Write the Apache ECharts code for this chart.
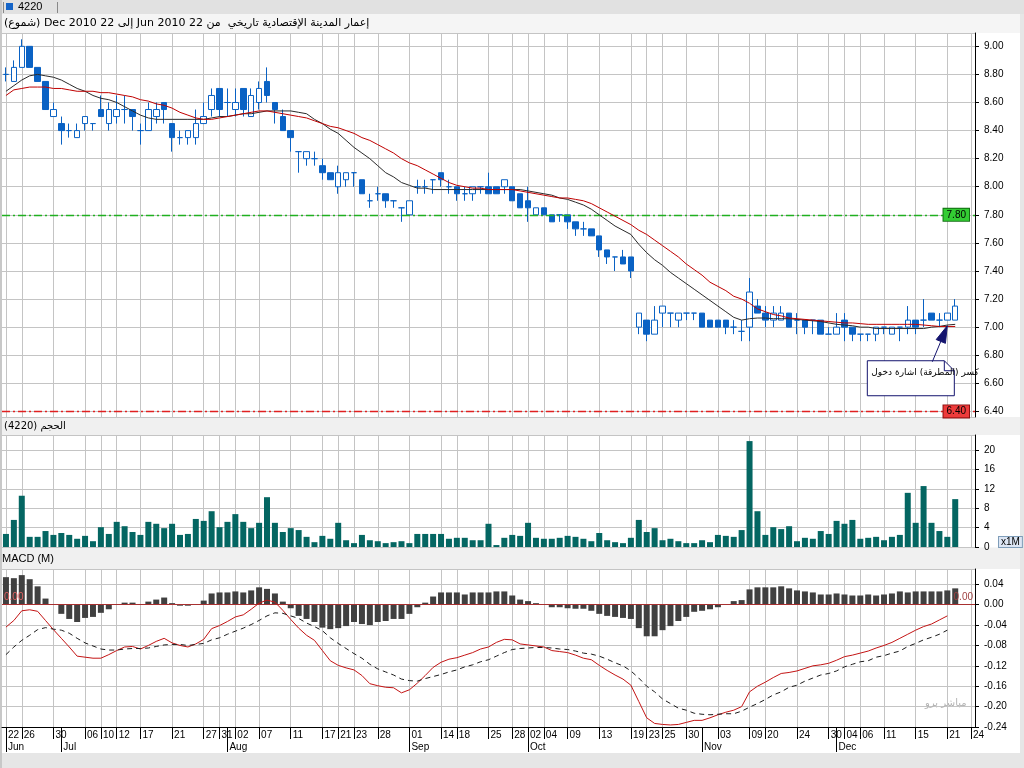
<!DOCTYPE html>
<html><head><meta charset="utf-8">
<script src="https://cdn.jsdelivr.net/npm/echarts@6/dist/echarts.min.js"></script>
<style>html,body{margin:0;padding:0;background:#fff}#c{width:1024px;height:768px}</style>
</head><body><div id="c"></div><script>
// ---------- DATA ----------
const dates = ['06-22','06-23','06-26','06-27','06-28','06-29','06-30',
'07-03','07-04','07-05','07-06','07-07','07-10','07-11','07-12','07-13','07-14','07-17','07-18','07-19','07-20','07-21','07-24','07-25','07-26','07-27','07-28','07-31',
'08-01','08-02','08-03','08-04','08-07','08-08','08-09','08-10','08-11','08-14','08-15','08-16','08-17','08-18','08-21','08-22','08-23','08-24','08-25','08-28','08-29','08-30','08-31',
'09-01','09-04','09-05','09-06','09-14','09-15','09-18','09-19','09-20','09-21','09-25','09-26','09-27','09-28','09-29',
'10-02','10-03','10-04','10-05','10-06','10-09','10-10','10-11','10-12','10-13','10-16','10-17','10-18','10-19','10-20','10-23','10-24','10-25','10-26','10-27','10-30','10-31',
'11-01','11-02','11-03','11-06','11-07','11-08','11-09','11-10','11-20','11-21','11-22','11-23','11-24','11-27','11-28','11-29','11-30',
'12-01','12-04','12-05','12-06','12-07','12-08','12-11','12-12','12-13','12-14','12-15','12-18','12-19','12-20','12-21','12-22','12-23','12-24'];

const tickDays = ['06-22','06-26','06-30','07-06','07-10','07-12','07-17','07-21','07-27','07-31','08-02','08-07','08-11','08-17','08-21','08-23','08-28','09-01','09-14','09-18','09-25','09-28','10-02','10-04','10-09','10-13','10-19','10-23','10-25','10-30','11-03','11-09','11-20','11-24','11-30','12-04','12-06','12-11','12-15','12-21','12-24'];
const monthStarts = {'06-22':'Jun','07-03':'Jul','08-01':'Aug','09-01':'Sep','10-02':'Oct','11-01':'Nov','12-01':'Dec'};

const open = [8.80,8.75,8.85,9.00,8.85,8.75,8.50,8.45,8.40,8.35, 8.45,8.45,8.55,8.45,8.50,8.55,8.55,8.40,8.40,8.50, 8.60,8.45,8.35,8.35,8.35,8.45,8.55,8.70,8.60,8.55, 8.70,8.50,8.60,8.75,8.60,8.50,8.40,8.25,8.20,8.20, 8.15,8.10,8.00,8.05,8.10,8.05,7.90,7.95,7.95,7.90, 7.85,7.80,8.00,8.00,8.05,8.10,8.00,8.00,7.95,7.95, 8.00,8.00,8.00,8.00,8.00,7.95,7.90,7.80,7.85,7.80, 7.80,7.80,7.75,7.70,7.70,7.65,7.55,7.50,7.50,7.50, 7.00,7.05,6.95,7.10,7.10,7.05,7.10,7.10,7.10,7.05, 7.05,7.05,7.00,6.97,7.00,7.15,7.10,7.05,7.05,7.10, 7.05,7.05,7.05,7.05,6.95,6.95,7.05,7.00,6.95,6.95, 6.95,7.00,6.95,7.00,7.00,7.05,7.05,7.10,7.05,7.05, 7.05];
const close = [8.80,8.85,9.00,8.85,8.75,8.55,8.55,8.40,8.40,8.40, 8.50,8.45,8.50,8.55,8.55,8.55,8.50,8.40,8.55,8.55, 8.55,8.35,8.35,8.40,8.45,8.50,8.65,8.55,8.60,8.60, 8.55,8.65,8.70,8.65,8.55,8.40,8.35,8.25,8.25,8.20, 8.10,8.05,8.10,8.10,8.10,7.95,7.90,7.95,7.90,7.90, 7.85,7.90,8.00,8.00,8.05,8.05,8.00,7.95,7.95,8.00, 8.00,7.95,7.95,8.05,7.90,7.85,7.85,7.85,7.80,7.75, 7.80,7.75,7.70,7.70,7.65,7.55,7.50,7.50,7.45,7.40, 7.10,6.95,7.05,7.15,7.10,7.10,7.10,7.10,7.00,7.00, 7.00,7.00,7.00,6.97,7.25,7.10,7.05,7.10,7.10,7.00, 7.05,7.00,7.05,6.95,6.95,7.00,7.00,6.95,6.95,6.95, 7.00,7.00,7.00,7.00,7.05,7.00,7.05,7.05,7.05,7.10, 7.15];
const low = [8.75,8.75,8.85,8.85,8.75,8.55,8.50,8.30,8.35,8.35, 8.40,8.40,8.50,8.40,8.45,8.45,8.40,8.30,8.40,8.45, 8.45,8.25,8.30,8.30,8.30,8.45,8.50,8.50,8.50,8.50, 8.50,8.50,8.55,8.60,8.45,8.40,8.25,8.10,8.15,8.15, 8.05,8.05,7.95,8.00,8.00,7.95,7.85,7.90,7.85,7.85, 7.75,7.80,7.95,7.95,7.95,8.00,7.95,7.90,7.90,7.90, 7.95,7.95,7.95,7.95,7.90,7.85,7.75,7.80,7.80,7.75, 7.75,7.70,7.65,7.65,7.65,7.50,7.45,7.40,7.45,7.35, 6.95,6.90,6.95,7.00,7.00,7.00,7.05,7.05,7.00,7.00, 7.00,6.95,6.95,6.90,6.90,7.10,7.00,7.00,7.05,7.00, 6.95,6.95,6.95,6.95,6.95,6.95,6.90,6.90,6.90,6.90, 6.90,6.95,6.95,6.90,6.95,6.95,7.00,7.05,7.00,7.05, 7.05];
const high = [8.85,8.90,9.05,9.00,8.85,8.75,8.60,8.50,8.45,8.45, 8.50,8.45,8.65,8.60,8.65,8.65,8.55,8.45,8.60,8.60, 8.60,8.45,8.40,8.40,8.55,8.60,8.70,8.70,8.70,8.70, 8.70,8.70,8.75,8.85,8.60,8.55,8.40,8.25,8.25,8.25, 8.20,8.10,8.15,8.10,8.10,8.05,7.95,8.00,7.95,7.90, 7.85,7.90,8.05,8.05,8.05,8.10,8.05,8.00,8.00,8.00, 8.00,8.10,8.00,8.05,8.00,7.95,8.00,7.85,7.85,7.80, 7.80,7.80,7.75,7.75,7.70,7.65,7.55,7.50,7.55,7.50, 7.10,7.05,7.15,7.15,7.10,7.10,7.10,7.10,7.10,7.05, 7.05,7.05,7.05,7.05,7.35,7.20,7.15,7.15,7.15,7.10, 7.10,7.05,7.05,7.05,7.00,7.10,7.10,7.00,6.95,6.95, 7.00,7.00,7.00,7.00,7.15,7.05,7.20,7.10,7.10,7.10, 7.20];

const maShort = [8.68,8.72,8.76,8.79,8.80,8.79,8.78,8.76,8.73,8.70, 8.68,8.65,8.63,8.62,8.60,8.57,8.54,8.51,8.49,8.48, 8.48,8.48,8.48,8.48,8.48,8.48,8.49,8.50,8.50,8.51, 8.52,8.52,8.53,8.54,8.54,8.54,8.54,8.53,8.52,8.48, 8.45,8.41,8.38,8.33,8.28,8.24,8.20,8.15,8.10,8.07, 8.03,8.01,7.99,7.99,7.98,7.98,7.98,7.98,7.98,7.98, 7.98,7.98,7.98,7.98,7.98,7.98,7.97,7.96,7.95,7.94, 7.92,7.91,7.89,7.87,7.84,7.80,7.76,7.72,7.69,7.66, 7.59,7.53,7.48,7.44,7.39,7.35,7.31,7.27,7.23,7.19, 7.15,7.11,7.07,7.05,7.06,7.065,7.065,7.06,7.06,7.06, 7.055,7.05,7.045,7.04,7.03,7.02,7.015,7.01,7.00,7.00, 6.99,6.99,6.99,6.99,6.99,6.99,6.99,7.00,7.005,7.015, 7.02];
const maLong = [8.65,8.69,8.70,8.71,8.71,8.71,8.70,8.70,8.69,8.68, 8.68,8.68,8.67,8.67,8.66,8.65,8.64,8.62,8.61,8.59, 8.58,8.56,8.53,8.51,8.49,8.48,8.48,8.49,8.50,8.51, 8.52,8.53,8.54,8.54,8.53,8.52,8.51,8.50,8.49,8.47, 8.45,8.43,8.42,8.40,8.38,8.35,8.33,8.30,8.27,8.24, 8.20,8.17,8.15,8.12,8.09,8.06,8.03,8.01,8.00,7.99, 7.99,7.98,7.98,7.98,7.98,7.97,7.96,7.95,7.94,7.93, 7.92,7.92,7.91,7.90,7.88,7.85,7.82,7.79,7.76,7.73, 7.69,7.66,7.62,7.58,7.54,7.50,7.45,7.41,7.37,7.32, 7.29,7.26,7.22,7.20,7.17,7.13,7.11,7.09,7.08,7.065, 7.06,7.055,7.05,7.045,7.04,7.035,7.03,7.03,7.025,7.02, 7.02,7.02,7.02,7.02,7.02,7.02,7.015,7.01,7.005,7.005, 7.005];

const volume = [2.7,5.6,10.6,2.1,2.1,3.3,2.5,2.9,2.5,1.7, 2.3,1.2,4.1,2.7,5.2,4.3,3.1,2.5,5.2,4.8, 3.9,4.8,2.5,2.7,5.8,5.4,7.4,4.1,5.2,6.8, 5.2,3.9,5.0,10.3,5.0,3.1,3.9,3.5,2.1,1.0, 2.3,1.7,5.0,1.4,0.8,2.5,1.4,1.2,0.8,1.0, 1.2,0.8,2.7,2.7,2.7,2.7,1.7,1.9,1.9,1.4, 1.4,4.8,0.4,1.9,2.5,2.3,5.0,1.9,1.7,1.7, 1.9,2.3,2.1,1.7,1.2,2.9,1.4,1.0,0.8,1.9, 5.6,3.1,3.9,1.4,1.7,1.2,0.8,0.8,1.4,1.0, 2.5,2.3,2.1,3.5,21.9,7.4,2.5,4.1,3.7,4.3, 1.2,1.9,1.7,3.3,2.7,5.4,4.8,5.6,1.7,1.9, 2.1,1.4,2.1,2.5,11.2,5.0,12.6,5.0,3.3,2.1, 9.9];

const macdHist = [0.054,0.052,0.058,0.050,0.036,0.012,0.000,-0.018,-0.028,-0.034, -0.026,-0.024,-0.016,-0.009,0.000,0.004,0.004,0.000,0.006,0.010, 0.014,0.003,-0.002,-0.002,0.000,0.008,0.022,0.024,0.024,0.026, 0.024,0.028,0.034,0.031,0.022,0.006,-0.007,-0.022,-0.028,-0.034, -0.045,-0.048,-0.046,-0.042,-0.034,-0.038,-0.040,-0.034,-0.032,-0.028, -0.028,-0.018,-0.005,0.004,0.016,0.024,0.024,0.024,0.020,0.024, 0.024,0.024,0.026,0.026,0.018,0.010,0.007,0.003,0.000,-0.005, -0.005,-0.007,-0.008,-0.008,-0.012,-0.018,-0.022,-0.024,-0.026,-0.028, -0.046,-0.062,-0.062,-0.050,-0.042,-0.032,-0.024,-0.014,-0.012,-0.009, -0.005,0.000,0.007,0.009,0.030,0.034,0.034,0.034,0.036,0.032, 0.028,0.026,0.024,0.020,0.020,0.022,0.020,0.018,0.018,0.020, 0.018,0.020,0.022,0.026,0.024,0.026,0.026,0.026,0.026,0.028, 0.032];
const macdLine = [-0.044,-0.031,-0.012,-0.010,-0.013,-0.031,-0.049,-0.066,-0.083,-0.101, -0.103,-0.105,-0.105,-0.098,-0.090,-0.083,-0.082,-0.087,-0.080,-0.072, -0.066,-0.075,-0.080,-0.083,-0.077,-0.068,-0.047,-0.041,-0.033,-0.024, -0.020,-0.009,0.003,0.009,0.005,-0.011,-0.029,-0.046,-0.060,-0.070, -0.090,-0.110,-0.119,-0.124,-0.128,-0.139,-0.155,-0.159,-0.162,-0.163, -0.173,-0.167,-0.154,-0.139,-0.123,-0.113,-0.107,-0.104,-0.099,-0.094, -0.087,-0.083,-0.074,-0.068,-0.069,-0.077,-0.079,-0.081,-0.083,-0.090, -0.092,-0.094,-0.099,-0.105,-0.108,-0.119,-0.129,-0.138,-0.146,-0.158, -0.190,-0.222,-0.233,-0.235,-0.236,-0.235,-0.231,-0.227,-0.227,-0.222, -0.216,-0.211,-0.207,-0.200,-0.171,-0.160,-0.152,-0.143,-0.135,-0.133, -0.130,-0.125,-0.120,-0.118,-0.115,-0.109,-0.102,-0.099,-0.095,-0.091, -0.085,-0.080,-0.074,-0.066,-0.058,-0.050,-0.043,-0.038,-0.030,-0.022, null];
const macdSignal = [-0.098,-0.083,-0.070,-0.060,-0.049,-0.045,-0.048,-0.050,-0.056,-0.066, -0.075,-0.081,-0.087,-0.089,-0.089,-0.087,-0.086,-0.086,-0.085,-0.082, -0.079,-0.078,-0.078,-0.080,-0.078,-0.076,-0.069,-0.065,-0.058,-0.052, -0.046,-0.039,-0.031,-0.022,-0.016,-0.017,-0.022,-0.027,-0.036,-0.043, -0.051,-0.065,-0.076,-0.086,-0.096,-0.105,-0.117,-0.126,-0.132,-0.138, -0.146,-0.149,-0.150,-0.145,-0.141,-0.137,-0.132,-0.128,-0.122,-0.118, -0.112,-0.108,-0.101,-0.094,-0.088,-0.086,-0.085,-0.084,-0.084,-0.085, -0.087,-0.088,-0.091,-0.095,-0.097,-0.101,-0.107,-0.114,-0.120,-0.130, -0.144,-0.160,-0.171,-0.185,-0.194,-0.203,-0.207,-0.213,-0.215,-0.216, -0.215,-0.214,-0.214,-0.209,-0.201,-0.194,-0.186,-0.177,-0.171,-0.162, -0.158,-0.150,-0.144,-0.138,-0.135,-0.130,-0.122,-0.117,-0.112,-0.110, -0.103,-0.100,-0.095,-0.091,-0.082,-0.076,-0.069,-0.064,-0.058,-0.050, null];

const priceLevels = [7.80, 6.40];          // green / red reference levels
const signalPoint = ['12-21', 7.01];        // where the annotation arrow points
const titleText = 'إعمار المدينة الإقتصادية تاريخي  من 22 Jun 2010 إلى 22 Dec 2010 (شموع)';
const volTitle = 'الحجم (4220)';
const noteText = 'كسر (المطرقة) اشارة دخول';
const watermark = 'مباشر برو';

// ---------- CHART ----------
const FONT = '"Liberation Sans", Arial, sans-serif';
const AR = '"DejaVu Sans", sans-serif';
const RLE = '\u202B', PDF = '\u202C';
const BLUE = '#0a62c4';
const GRIDC = '#c4c4c4';
const tickSet = new Set(tickDays);
const isDay = (i, v) => tickSet.has(v);
const isMonth = (i, v) => monthStarts[v] !== undefined;
const ohlc = open.map((o, i) => [o, close[i], low[i], high[i]]);
const vLines = tickDays.map(d => ({ xAxis: d }));
const vMark = { silent: true, symbol: ['none', 'none'], z: 1, label: { show: false },
  lineStyle: { color: GRIDC, type: 'solid', width: 1 }, data: vLines, animation: false };

const levelSeries = (value, lineColor, tagColor, tagBorder) => {
  const ls = { color: lineColor, type: [8, 3, 2, 3], width: 1.3, opacity: 1 };
  return {
    type: 'line', xAxisIndex: 0, yAxisIndex: 0, data: [], z: 3, silent: true,
    color: lineColor, itemStyle: { color: lineColor }, lineStyle: { color: lineColor },
    markLine: { silent: true, symbol: ['none', 'none'], z: 3, animation: false,
      itemStyle: { color: lineColor }, lineStyle: ls,
      emphasis: { disabled: true },
      label: { show: true, position: 'insideEnd', distance: 6, formatter: value.toFixed(2), color: '#000', fontSize: 10,
        backgroundColor: tagColor, borderColor: tagBorder, borderWidth: 1, padding: [1, 3] },
      data: [{ yAxis: value, lineStyle: ls, itemStyle: { color: lineColor } }] }
  };
};

const hiddenX = (g) => ({ type: 'category', gridIndex: g, data: dates, axisLine: { show: false },
  axisTick: { show: false }, axisLabel: { show: false }, splitLine: { show: false } });
const rightY = (g, o) => Object.assign({ type: 'value', gridIndex: g, position: 'right',
  axisLine: { show: true, lineStyle: { color: '#000' } },
  axisTick: { show: true, length: 4, lineStyle: { color: '#000' } },
  splitLine: { show: true, lineStyle: { color: GRIDC, width: 1 } }
}, o);

const chart = echarts.init(document.getElementById('c'));
const option = {
  animation: false,
  backgroundColor: '#ffffff',
  textStyle: { fontFamily: FONT },
  grid: [
    { left: 2, right: 49, top: 33, height: 384 },
    { left: 2, right: 49, top: 435, height: 112 },
    { left: 2, right: 49, top: 569, height: 158 }
  ],
  xAxis: [
    hiddenX(0), hiddenX(1),
    { type: 'category', gridIndex: 2, data: dates, position: 'bottom',
      axisLine: { show: true, onZero: false, lineStyle: { color: '#000' } },
      axisTick: { show: true, interval: isDay, alignWithLabel: true, length: 12, lineStyle: { color: '#000' } },
      axisLabel: { interval: isDay, formatter: v => v.slice(3), align: 'left', margin: 3, padding: [0, 0, 0, 2],
        fontSize: 10, color: '#000', fontFamily: FONT },
      splitLine: { show: false } },
    { type: 'category', gridIndex: 2, data: dates, position: 'bottom',
      axisLine: { show: false, onZero: false },
      axisTick: { show: true, interval: isMonth, alignWithLabel: true, length: 25, lineStyle: { color: '#000' } },
      axisLabel: { interval: isMonth, formatter: v => monthStarts[v] || '', align: 'left', margin: 15, padding: [0, 0, 0, 2],
        fontSize: 10, color: '#000', fontFamily: FONT },
      splitLine: { show: false } }
  ],
  yAxis: [
    rightY(0, { min: 6.36, max: 9.095, splitNumber: 14,
      axisLabel: { fontSize: 10, color: '#000', margin: 9, formatter: v => v.toFixed(2), showMinLabel: false, showMaxLabel: false } }),
    rightY(1, { min: 0, max: 23.16, interval: 4,
      axisLabel: { fontSize: 10, color: '#000', margin: 9, showMaxLabel: false } }),
    rightY(2, { min: -0.24, max: 0.07, interval: 0.04,
      axisLabel: { fontSize: 10, color: '#000', margin: 9, formatter: v => (Math.abs(v) < 1e-9 ? 0 : v).toFixed(2), showMaxLabel: false } })
  ],
  series: [
    { type: 'line', xAxisIndex: 0, yAxisIndex: 0, data: [], z: 1, markLine: vMark, silent: true },
    { type: 'line', xAxisIndex: 1, yAxisIndex: 1, data: [], z: 1, markLine: vMark, silent: true },
    { type: 'line', xAxisIndex: 2, yAxisIndex: 2, data: [], z: 1, markLine: vMark, silent: true },
    levelSeries(priceLevels[0], '#20b020', '#33cc33', '#137013'),
    levelSeries(priceLevels[1], '#e02020', '#ee3b3b', '#8a1010'),
    { type: 'candlestick', xAxisIndex: 0, yAxisIndex: 0, data: ohlc, barWidth: 6,
      itemStyle: { color: '#ffffff', color0: BLUE, borderColor: BLUE, borderColor0: BLUE, borderWidth: 1 } },
    { type: 'line', xAxisIndex: 0, yAxisIndex: 0, data: maShort, showSymbol: false, symbol: 'none',
      lineStyle: { color: '#2a2a2a', width: 1 }, z: 4 },
    { type: 'line', xAxisIndex: 0, yAxisIndex: 0, data: maLong, showSymbol: false, symbol: 'none',
      lineStyle: { color: '#c00000', width: 1 }, z: 4 },
    { type: 'bar', xAxisIndex: 1, yAxisIndex: 1, data: volume, barWidth: 6, itemStyle: { color: '#046662' } },
    { type: 'bar', xAxisIndex: 2, yAxisIndex: 2, data: macdHist, barWidth: 6, itemStyle: { color: '#404040' },
      markLine: { silent: true, symbol: ['none', 'none'], z: 3, animation: false,
        lineStyle: { color: '#a83030', type: 'solid', width: 1 },
        data: [
          { yAxis: 0, label: { show: true, position: 'insideStartTop', distance: 2, formatter: '0.00', color: '#e06060', fontSize: 10 } },
          { yAxis: 0, label: { show: true, position: 'insideEndTop', distance: 2, formatter: '0.00', color: '#a04040', fontSize: 10 } }
        ] } },
    { type: 'line', xAxisIndex: 2, yAxisIndex: 2, data: macdLine, showSymbol: false, symbol: 'none',
      lineStyle: { color: '#c41414', width: 1 }, z: 4 },
    { type: 'line', xAxisIndex: 2, yAxisIndex: 2, data: macdSignal, showSymbol: false, symbol: 'none',
      lineStyle: { color: '#1a1a1a', width: 1, type: [5, 4] }, z: 4 }
  ]
};
chart.setOption(option);

// annotation anchored in data space
const T = chart.convertToPixel({ xAxisIndex: 0, yAxisIndex: 0 }, signalPoint);
const tx = T[0], ty = T[1];
const bx = tx - 80, by = ty + 35, bw = 87, bh = 35;
const NAVY = '#14146e';
const g = [
  { type: 'rect', shape: { x: 0, y: 0, width: 1024, height: 14 }, style: { fill: '#e1e1e1' }, z: -5 },
  { type: 'rect', shape: { x: 0, y: 14, width: 1024, height: 19 }, style: { fill: '#f5f5f5' }, z: -5 },
  { type: 'rect', shape: { x: 0, y: 417, width: 1024, height: 18 }, style: { fill: '#f0f0f0' }, z: -5 },
  { type: 'rect', shape: { x: 0, y: 547.5, width: 1024, height: 21.5 }, style: { fill: '#f0f0f0' }, z: -5 },
  { type: 'rect', shape: { x: 0, y: 753, width: 1024, height: 15 }, style: { fill: '#e6e6e6' }, z: -5 },
  { type: 'rect', shape: { x: 0, y: 0, width: 2, height: 768 }, style: { fill: '#c8c8c8' }, z: -4 },
  { type: 'rect', shape: { x: 1020, y: 14, width: 4, height: 754 }, style: { fill: '#e6e6e6' }, z: -4 },
  { type: 'line', shape: { x1: 3.5, y1: 2, x2: 3.5, y2: 13 }, style: { stroke: '#888', lineWidth: 1 } },
  { type: 'line', shape: { x1: 57.5, y1: 2, x2: 57.5, y2: 13 }, style: { stroke: '#888', lineWidth: 1 } },
  { type: 'rect', shape: { x: 6, y: 3, width: 7, height: 7 }, style: { fill: '#1464c8' } },
  { type: 'text', x: 18, y: 7, style: { text: '4220', font: '11px ' + FONT, fill: '#000', verticalAlign: 'middle' } },
  { type: 'text', x: 4, y: 23, style: { text: RLE + titleText + PDF, font: '11px ' + AR, fill: '#000', verticalAlign: 'middle' } },
  { type: 'text', x: 4, y: 426, style: { text: RLE + volTitle + PDF, font: '10px ' + AR, fill: '#000', verticalAlign: 'middle' } },
  { type: 'text', x: 2, y: 559, style: { text: 'MACD (M)', font: '11px ' + FONT, fill: '#000', verticalAlign: 'middle' } },
  { type: 'text', x: 925, y: 703, style: { text: RLE + watermark + PDF, font: '10px ' + AR, fill: '#b4b4b4', verticalAlign: 'middle' } },
  { type: 'text', x: 999, y: 542, style: { text: 'x1M', font: '10px ' + FONT, fill: '#000', verticalAlign: 'middle',
      backgroundColor: '#dde6f4', borderColor: '#7f9db9', borderWidth: 1, padding: [0, 2] } },
  // annotation box
  { type: 'polygon', shape: { points: [[bx, by], [bx + bw - 10, by], [bx + bw, by + 10], [bx + bw, by + bh], [bx, by + bh]] },
    style: { fill: '#ffffff', stroke: NAVY, lineWidth: 1 }, z: 10 },
  { type: 'polyline', shape: { points: [[bx + bw - 10, by], [bx + bw - 10, by + 10], [bx + bw, by + 10]] },
    style: { stroke: NAVY, lineWidth: 1, fill: null }, z: 10 },
  { type: 'text', x: bx + 4, y: by + 12, style: { text: RLE + noteText + PDF, font: '9px ' + AR, fill: '#000', verticalAlign: 'middle' }, z: 11 },
  { type: 'line', shape: { x1: tx - 15, y1: ty + 36, x2: tx - 5, y2: ty + 12 }, style: { stroke: NAVY, lineWidth: 1 }, z: 10 },
  { type: 'polygon', shape: { points: [[tx, ty], [tx - 1.9, ty + 17.6], [tx - 11.1, ty + 13.8]] },
    style: { fill: NAVY, stroke: NAVY, lineWidth: 1 }, z: 10 }
];
chart.setOption({ graphic: g });
</script></body></html>
